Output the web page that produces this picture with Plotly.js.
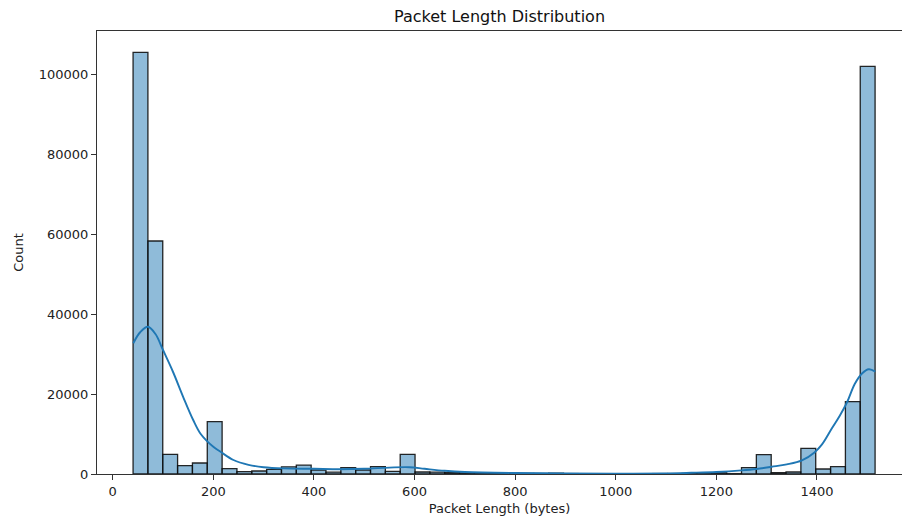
<!DOCTYPE html>
<html>
<head>
<meta charset="utf-8">
<script src="https://cdn.plot.ly/plotly-3.0.1.min.js"></script>
<style>html,body{margin:0;padding:0;background:#fff;overflow:hidden;}#chart{width:902px;height:516px;}</style>
</head>
<body>
<div id="chart"></div>
<script>
// Histogram: 50 bins from 40.5 bytes, each 29.5 bytes wide
const binStart = 40.5;
const binWidth = 29.5;
const counts = [
  105400, 58250, 4900, 2100, 2750, 13080, 1330, 580, 750, 1150,
  1800, 2200, 1000, 450, 1580, 1000, 1830, 650, 4920, 500,
  450, 350, 280, 220, 180, 150, 130, 120, 200, 100,
  90, 80, 80, 80, 90, 100, 110, 130, 160, 300,
  100, 1600, 4830, 330, 500, 6400, 1250, 1830, 18100, 101900
];

// KDE curve
const kdeX = [41, 55, 70, 85, 100, 120, 140, 160, 175, 200, 215, 240, 270, 300, 340, 400, 450, 500, 550, 590, 620, 660, 700, 800, 900, 1000, 1100, 1150, 1200, 1250, 1280, 1310, 1340, 1370, 1395, 1410, 1430, 1445, 1460, 1475, 1490, 1503, 1516];
const kdeY = [32700, 35500, 36800, 35000, 31000, 25500, 19300, 13500, 10000, 6800, 5500, 3500, 2300, 1700, 1400, 1300, 1200, 1300, 1600, 1700, 1300, 800, 500, 250, 150, 100, 150, 300, 500, 900, 1250, 1800, 2400, 3400, 5400, 7400, 11500, 14500, 18000, 22500, 25200, 26200, 25600];

const xTicks = [0, 200, 400, 600, 800, 1000, 1200, 1400];
const yTicks = [0, 20000, 40000, 60000, 80000, 100000];

const binCenters = counts.map((_, i) => binStart + binWidth * (i + 0.5));

const font = "DejaVu Sans, Liberation Sans, sans-serif";

const traces = [
  {
    type: "bar",
    x: binCenters,
    y: counts,
    width: binWidth,
    marker: { color: "rgba(31,119,180,0.5)", line: { color: "rgba(15,15,15,0.9)", width: 1.3 } },
    hoverinfo: "x+y",
    showlegend: false
  },
  {
    type: "scatter",
    mode: "lines",
    x: kdeX,
    y: kdeY,
    line: { color: "#1f77b4", width: 1.9, shape: "spline", smoothing: 1 },
    showlegend: false
  }
];

const layout = {
  width: 902,
  height: 516,
  margin: { l: 97, r: 0, t: 31, b: 42, pad: 0 },
  paper_bgcolor: "#fff",
  plot_bgcolor: "#fff",
  bargap: 0,
  font: { family: font, color: "#222", size: 13 },
  title: { text: "Packet Length Distribution", font: { family: font, size: 16, color: "#111" }, x: 0.5, xref: "paper", xanchor: "center", y: 0.968, yref: "container", yanchor: "middle" },
  xaxis: {
    range: [-31.2, 1569],
    tickvals: xTicks,
    ticktext: xTicks.map(String),
    ticks: "outside", ticklen: 5, tickwidth: 1, tickcolor: "#333",
    showline: true, linecolor: "#333", linewidth: 1, mirror: true,
    showgrid: false, zeroline: false,
    tickfont: { size: 13, color: "#222" },
    title: { text: "Packet Length (bytes)", font: { size: 13, color: "#222" }, standoff: 6 }
  },
  yaxis: {
    range: [0, 110750],
    tickvals: yTicks,
    ticktext: yTicks.map(String),
    ticks: "outside", ticklen: 5, tickwidth: 1, tickcolor: "#333",
    showline: true, linecolor: "#333", linewidth: 1, mirror: false,
    showgrid: false, zeroline: false,
    tickfont: { size: 13, color: "#222" },
    title: { text: "Count", font: { size: 13, color: "#222" }, standoff: 12 }
  }
};

Plotly.newPlot("chart", traces, layout, { displayModeBar: false, staticPlot: true });
</script>
</body>
</html>
